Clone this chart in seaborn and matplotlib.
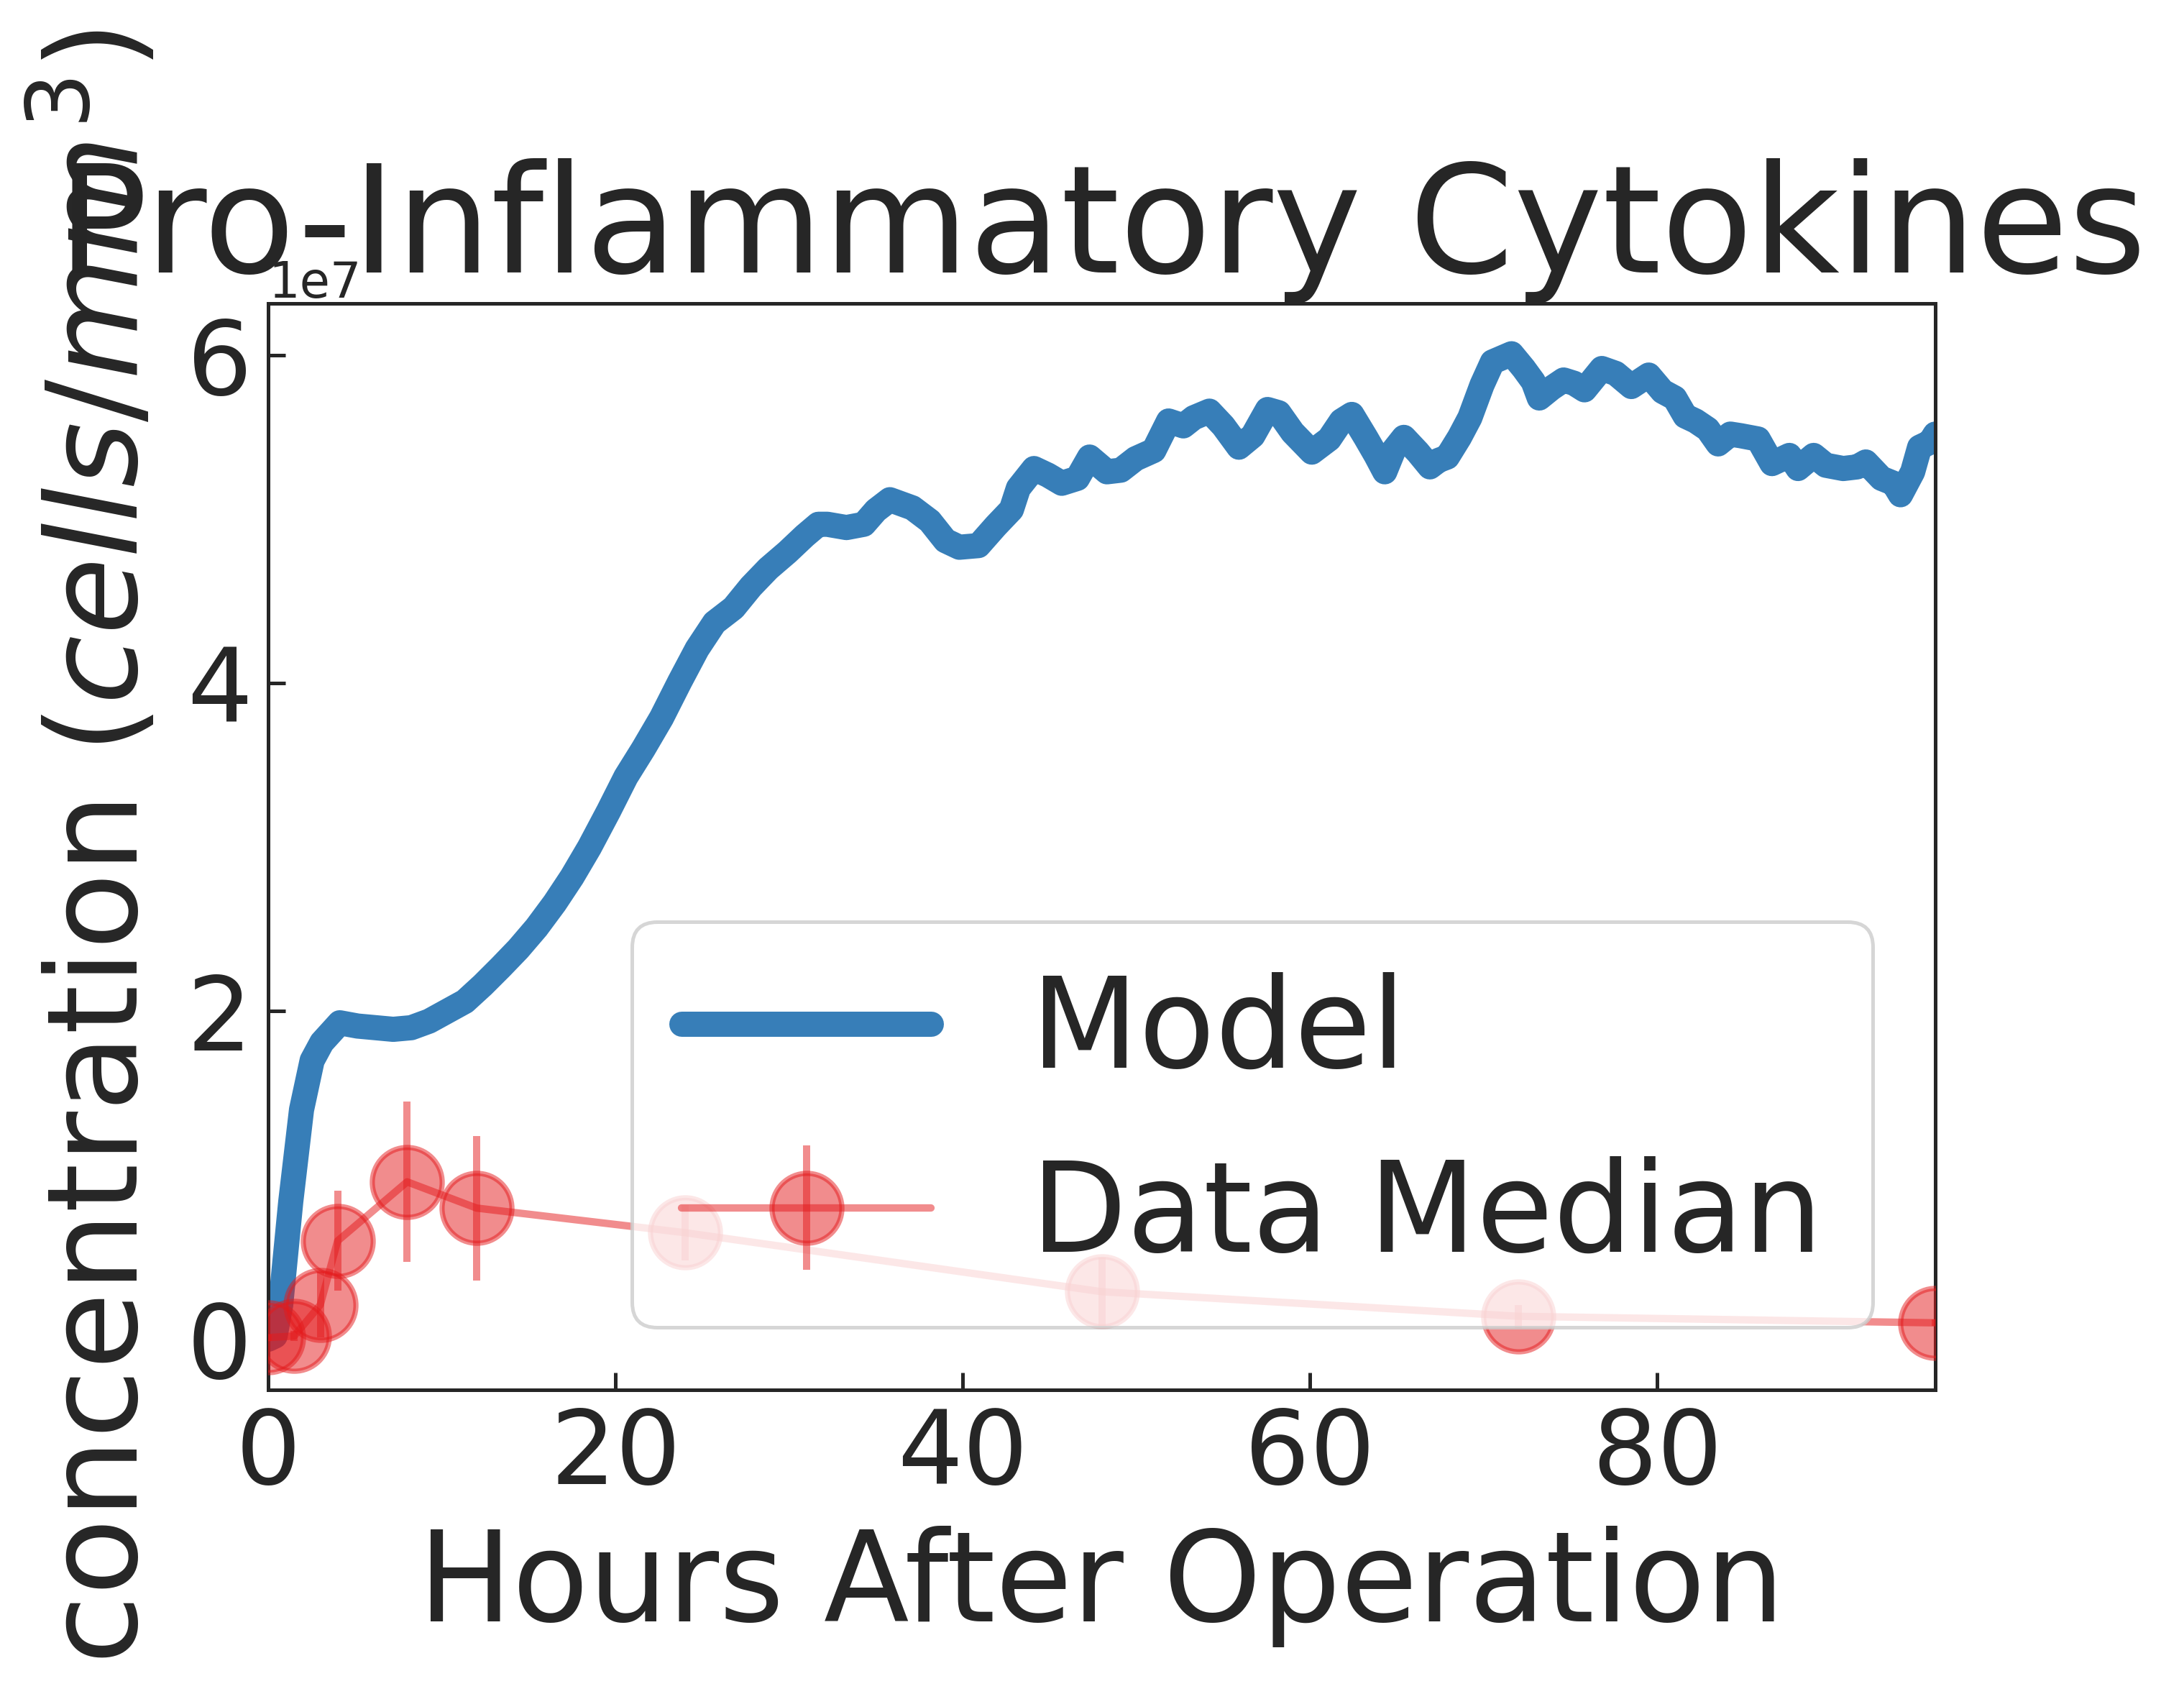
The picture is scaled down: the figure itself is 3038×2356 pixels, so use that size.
import numpy as np
import matplotlib
matplotlib.use('Agg')
import matplotlib.pyplot as plt
import seaborn as sns

# model curve (hours, cells/mm^3 in units of 1e7)
model_t = [0, 0.4, 0.72, 1.3, 1.92, 2.53, 3.09, 4.12, 5.15, 6.18, 7.2, 8.24, 9.27, 10.3,
           11.33, 12.36, 13.4, 14.4, 15.45, 16.5, 17.5, 18.5, 19.6, 20.6, 21.6, 22.65,
           23.7, 24.7, 25.7, 26.8, 27.8, 28.8, 29.9, 30.9, 31.68, 32.2, 33.3, 34.3, 35.0,
           35.8, 37.1, 38.1, 39.0, 39.8, 40.9, 41.9, 42.8, 43.2, 44.1, 44.9, 45.7, 46.6,
           47.3, 48.3, 49.1, 49.95, 51.0, 51.85, 52.7, 53.3, 54.2, 55.0, 55.9, 56.7, 57.55,
           58.2, 59.0, 60.1, 61.1, 61.8, 62.4, 63.2, 63.8, 64.3, 64.8, 65.4, 66.2, 66.9,
           67.4, 67.9, 68.6, 69.2, 69.9, 70.5, 71.6, 72.3, 72.85, 73.2, 73.9, 74.6, 75.2,
           75.8, 76.8, 77.6, 78.5, 79.5, 80.3, 81.0, 81.6, 82.2, 82.9, 83.5, 84.2, 84.8,
           85.8, 86.6, 87.6, 88.1, 89.0, 89.7, 90.7, 91.5, 92.0, 92.9, 93.6, 94.0, 94.7,
           95.1, 95.7, 96.0]
model_v = [0.0, 0.02, 0.21, 0.84, 1.40, 1.70, 1.81, 1.93, 1.91, 1.90, 1.89, 1.90, 1.94, 2.00,
           2.06, 2.16, 2.27, 2.38, 2.51, 2.66, 2.82, 3.00, 3.22, 3.43, 3.60, 3.79,
           4.01, 4.21, 4.37, 4.46, 4.59, 4.70, 4.80, 4.90, 4.97, 4.97, 4.95, 4.97, 5.055,
           5.12, 5.07, 4.99, 4.87, 4.83, 4.84, 4.96, 5.06, 5.19, 5.31, 5.27, 5.22, 5.25,
           5.38, 5.29, 5.30, 5.37, 5.42, 5.60, 5.57, 5.62, 5.66, 5.57, 5.44, 5.51, 5.67,
           5.65, 5.53, 5.41, 5.49, 5.60, 5.64, 5.50, 5.39, 5.29, 5.42, 5.50, 5.41, 5.32,
           5.36, 5.38, 5.50, 5.62, 5.82, 5.96, 6.01, 5.92, 5.84, 5.74, 5.80, 5.85, 5.83,
           5.79, 5.92, 5.89, 5.81, 5.88, 5.78, 5.74, 5.63, 5.60, 5.55, 5.46, 5.52, 5.51,
           5.49, 5.34, 5.39, 5.31, 5.39, 5.33, 5.31, 5.32, 5.35, 5.25, 5.22, 5.15, 5.29,
           5.44, 5.47, 5.52]

# measured medians with spread (units of 1e7)
data_t = [0, 1.5, 3, 4, 8, 12, 24, 48, 72, 96]
data_v = [0.01, 0.02, 0.21, 0.60, 0.96, 0.80, 0.65, 0.29, 0.14, 0.10]
data_err = [0.02, 0.03, 0.20, 0.305, 0.49, 0.44, 0.17, 0.21, 0.07, 0.02]

scale = 1e7
blue = '#377eb8'
red = '#e41a1c'

sns.set_theme(style='ticks', rc={'xtick.direction': 'in', 'ytick.direction': 'in'})
plt.rcParams['font.family'] = ['DejaVu Sans']

fig = plt.figure(figsize=(15.19, 11.78), dpi=200)
ax = fig.add_axes([0.1228, 0.1797, 0.7633, 0.6411])

sns.lineplot(x=np.array(model_t), y=np.array(model_v) * scale, color=blue,
             linewidth=12.6, label='Model', ax=ax)
ax.errorbar(data_t, np.array(data_v) * scale, yerr=np.array(data_err) * scale,
            color=red, alpha=0.5, marker='o', markersize=35, mew=2.6,
            lw=3.7, elinewidth=3.6, capsize=0, label='Data Median', zorder=3)

ax.set_xlim(0, 96)
ax.set_ylim(-0.307 * scale, 6.316 * scale)

for s in ax.spines.values():
    s.set_linewidth(1.8)
ax.tick_params(labelsize=51.5, length=8.6, width=1.8, direction='in', pad=8)
ax.yaxis.get_offset_text().set_fontsize(24.7)

ax.set_title('Pro-Inflammatory Cytokines', fontsize=75, y=1.0, pad=15.4)
ax.set_xlabel('Hours After Operation', fontsize=62.5, labelpad=10)
ax.set_ylabel(r'concentration ($cells/mm^3$)', fontsize=63)
ax.yaxis.set_label_coords(-0.0625, 0.5)

leg = ax.legend(loc='lower right', fontsize=62.5)
leg.get_frame().set_linewidth(1.8)

fig.savefig('out.png', dpi=200)
